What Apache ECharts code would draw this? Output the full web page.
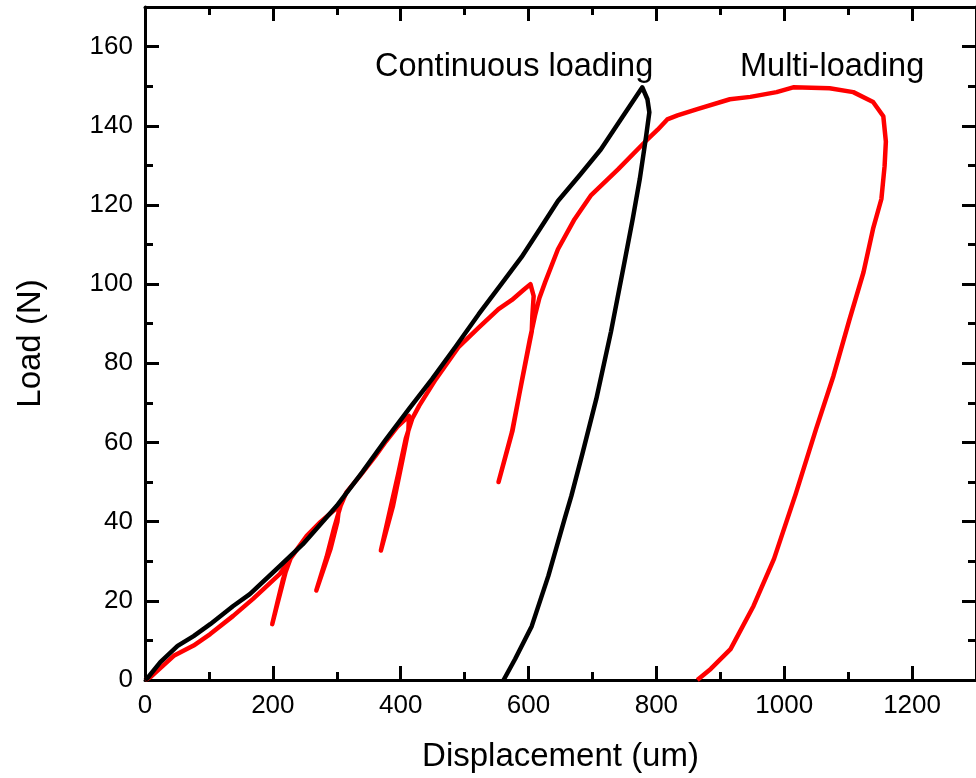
<!DOCTYPE html>
<html>
<head>
<meta charset="utf-8">
<script src="https://cdn.jsdelivr.net/npm/echarts@6/dist/echarts.min.js"></script>
<style>
html,body{margin:0;padding:0;background:#fff}
#main{width:976px;height:778px}
</style>
</head>
<body>
<div id="main"></div>
<script>
// continuous loading (black): load up to the peak, then unload
var contX = [0, 4, 24, 51, 76, 102, 138, 164, 211, 247, 300, 340, 377, 413, 449, 485, 522, 555, 589, 618, 646, 680, 713, 750, 778,
             786, 789, 784, 774, 763, 750, 729, 706, 684, 667, 657, 631, 605, 579, 561];
var contY = [0, 0.5, 4.5, 8.6, 11.1, 14.1, 18.7, 21.7, 28.8, 34.3, 44, 52.5, 60.8, 68.5, 76, 84, 92.4, 99.5, 106.8, 114, 121, 127.5, 134, 143, 149.7,
             146.7, 143.4, 137.4, 126.5, 116.5, 105.5, 88, 71, 57, 46.5, 41, 26.3, 13.6, 5.3, 0];

// multi-loading (red): four partial unload/reload loops, then final load and unload
var multiX = [0, 9, 45, 76, 102, 138, 169, 211, 224,
              214, 206, 199, 207, 216, 228, 240, 253, 275, 304,
              301, 290, 268, 284, 296, 306, 315, 336, 360, 377, 395, 413,
              412, 402, 388, 369, 382, 396, 408, 418, 429, 455, 490, 522, 553, 574, 592, 603,
              608, 606, 605, 589, 574, 553, 575, 590, 602, 610, 617, 626, 646, 672, 698, 740, 782, 802, 817, 833, 864, 915, 947, 988, 1014,
              1071, 1108, 1139, 1155, 1159, 1157, 1152, 1139, 1124, 1102, 1077, 1050, 1018, 984, 952, 916, 885, 864];
var multiY = [0, 0.8, 6.1, 8.7, 11.6, 16.2, 20.5, 26.8, 29.8,
              23.5, 18.5, 14.1, 19.5, 25.5, 30.8, 33.5, 36.4, 40, 44,
              40, 33, 22.6, 31, 38.5, 44, 47.4, 51.5, 56.5, 60.3, 64, 66.7,
              63, 55, 44, 32.7, 42, 52, 61, 66, 69.3, 76, 84, 89, 93.7, 96, 98.5, 100,
              97, 92, 88, 75, 62.6, 50, 63, 76, 86, 92, 96.5, 100.5, 108.8, 116.4, 122.5, 129, 135.9, 139, 141.6, 142.6, 144.2, 146.7, 147.3, 148.5, 149.7,
              149.5, 148.5, 146, 142.4, 136, 129.8, 121.5, 114, 103, 91, 76.8, 63.5, 47, 30.6, 18.7, 7.8, 2.8, 0];

var xMin = 0, xMax = 1300, xMajor = 200, xMinor = 100;
var yMin = 0, yMax = 170, yMajor = 20, yMinor = 10;

function pairs(xs, ys) {
  var out = [];
  for (var i = 0; i < xs.length; i++) out.push([xs[i], ys[i]]);
  return out;
}

var font = 'Liberation Sans, Arial, sans-serif';

// one axis per tick size, so long ticks and short ticks can both stop at the frame edge
function axis(pos, min, max, step, tickLen, showLine, showLabel) {
  return {
    type: 'value', position: pos, min: min, max: max, interval: step,
    axisLine: {show: showLine, onZero: false, lineStyle: {color: '#000', width: 3}},
    axisTick: {show: true, inside: true, length: tickLen, lineStyle: {color: '#000', width: 3}},
    axisLabel: {show: showLabel, showMaxLabel: false, color: '#000', fontSize: 26, fontFamily: font,
                margin: (pos == 'bottom') ? 13 : 12,
                formatter: function (v) { return String(v); }},
    splitLine: {show: false}
  };
}

var x0 = axis('bottom', xMin, xMax, xMajor, 14, true, true);
x0.name = 'Displacement (um)';
x0.nameLocation = 'middle';
x0.nameGap = 60;
x0.nameTextStyle = {color: '#000', fontSize: 33, fontFamily: font};

var y0 = axis('left', yMin, yMax, yMajor, 14, true, true);
y0.name = 'Load (N)';
y0.nameLocation = 'middle';
y0.nameGap = 98;
y0.nameTextStyle = {color: '#000', fontSize: 33, fontFamily: font};

var myChart = echarts.init(document.getElementById('main'));
var option = {
  animation: false,
  backgroundColor: '#fff',
  grid: {left: 145, top: 7, width: 834, height: 674},
  xAxis: [
    x0,
    axis('bottom', xMin, xMax, xMinor, 8, false, false),
    axis('top', xMin, xMax, xMajor, 14, true, false),
    axis('top', xMin, xMax, xMinor, 8, false, false)
  ],
  yAxis: [
    y0,
    axis('left', yMin, yMax, yMinor, 8, false, false),
    axis('right', yMin, yMax, yMajor, 14, true, false),
    axis('right', yMin, yMax, yMinor, 8, false, false)
  ],
  graphic: [
    {type: 'text', left: 375, top: 51, style: {text: 'Continuous loading', fill: '#000', font: '32.5px ' + font}},
    {type: 'text', left: 740, top: 51, style: {text: 'Multi-loading', fill: '#000', font: '32.5px ' + font}}
  ],
  series: [
    {
      name: 'Multi-loading', type: 'line', xAxisIndex: 0, yAxisIndex: 0,
      data: pairs(multiX, multiY), showSymbol: false, symbol: 'none',
      lineStyle: {color: '#ff0000', width: 4.5, join: 'round'}
    },
    {
      name: 'Continuous loading', type: 'line', xAxisIndex: 0, yAxisIndex: 0,
      data: pairs(contX, contY), showSymbol: false, symbol: 'none',
      lineStyle: {color: '#000', width: 4.5, join: 'round'}
    }
  ]
};
myChart.setOption(option);
window.addEventListener('resize', function () {
  myChart.resize();
});
</script>
</body>
</html>
